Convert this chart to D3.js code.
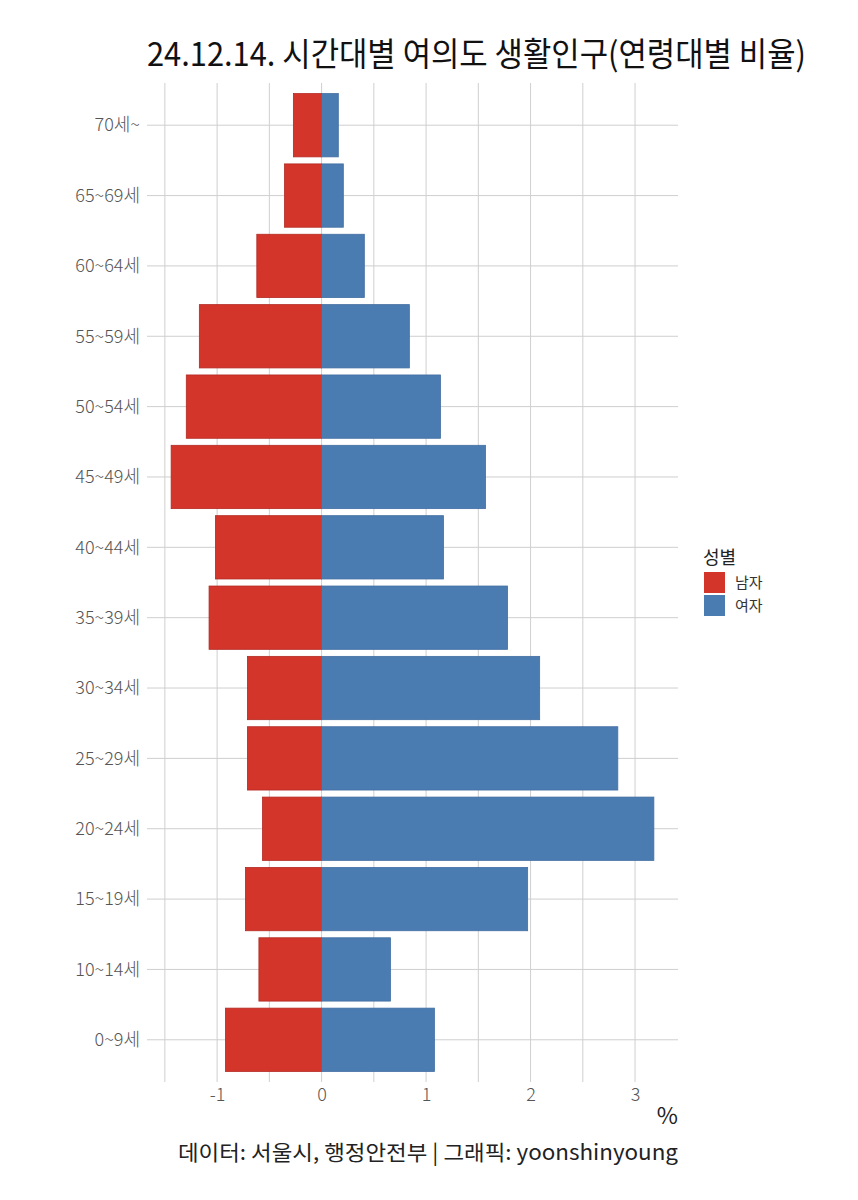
<!DOCTYPE html>
<html>
<head>
<meta charset="utf-8">
<script src="https://cdn.jsdelivr.net/npm/d3@7"></script>
<style>
  html, body { margin: 0; padding: 0; background: #fff; }
  svg { display: block; font-family: "Noto Sans CJK KR", "Noto Sans", sans-serif; }
</style>
</head>
<body>
<svg id="chart" width="858" height="1200"></svg>
<script>
// ---- data ----
const ageGroups = ["70세~", "65~69세", "60~64세", "55~59세", "50~54세", "45~49세", "40~44세",
                   "35~39세", "30~34세", "25~29세", "20~24세", "15~19세", "10~14세", "0~9세"];
const maleValues = [-0.27, -0.355, -0.62, -1.17, -1.295, -1.44, -1.016,
                    -1.077, -0.71, -0.71, -0.566, -0.729, -0.60, -0.92];
const femaleValues = [0.16, 0.208, 0.409, 0.84, 1.138, 1.569, 1.167,
                      1.78, 2.087, 2.835, 3.18, 1.972, 0.659, 1.08];
const seriesNames = ["남자", "여자"];
const xTicks = [-1, 0, 1, 2, 3];
const xMinorTicks = [-1.5, -0.5, 0.5, 1.5, 2.5];
const titleText = "24.12.14. 시간대별 여의도 생활인구(연령대별 비율)";
const captionText = "데이터: 서울시, 행정안전부 | 그래픽: yoonshinyoung";
const xAxisTitle = "%";
const legendTitle = "성별";

// ---- layout ----
const svg = d3.select("#chart");
const panel = { left: 147, right: 678, top: 83, bottom: 1082 };
const colors = { "남자": "#d3352b", "여자": "#4a7bb1" };
const strokes = { "남자": "#b32a22", "여자": "#436fa3" };
const gridColor = "#cfcfcf";
const textGray = "#555555";

const allVals = maleValues.concat(femaleValues);
const lo = d3.min(allVals), hi = d3.max(allVals), span = hi - lo;
const x = d3.scaleLinear().domain([lo - 0.05 * span, hi + 0.05 * span]).range([panel.left, panel.right]);
const y = d3.scalePoint().domain(ageGroups).range([panel.top, panel.bottom]).padding(0.6);
const barH = y.step() * 0.9;

const g = svg.append("g");

// gridlines
g.selectAll("line.vminor").data(xMinorTicks).join("line")
  .attr("x1", d => x(d)).attr("x2", d => x(d))
  .attr("y1", panel.top).attr("y2", panel.bottom)
  .attr("stroke", gridColor).attr("stroke-width", 1);
g.selectAll("line.vmajor").data(xTicks).join("line")
  .attr("x1", d => x(d)).attr("x2", d => x(d))
  .attr("y1", panel.top).attr("y2", panel.bottom)
  .attr("stroke", gridColor).attr("stroke-width", 1);
g.selectAll("line.h").data(ageGroups).join("line")
  .attr("x1", panel.left).attr("x2", panel.right)
  .attr("y1", d => y(d)).attr("y2", d => y(d))
  .attr("stroke", gridColor).attr("stroke-width", 1);

// bars
const rows = [];
ageGroups.forEach((a, i) => {
  rows.push({ age: a, sex: "남자", v: maleValues[i] });
  rows.push({ age: a, sex: "여자", v: femaleValues[i] });
});
g.selectAll("rect.bar").data(rows).join("rect")
  .attr("class", "bar")
  .attr("x", d => Math.min(x(0), x(d.v)))
  .attr("width", d => Math.abs(x(d.v) - x(0)))
  .attr("y", d => y(d.age) - barH / 2)
  .attr("height", barH)
  .attr("fill", d => colors[d.sex])
  .attr("stroke", d => strokes[d.sex])
  .attr("stroke-width", 0.8);

// y axis labels
const yAxis = d3.axisLeft(y).tickSize(0).tickPadding(7);
const yg = svg.append("g").attr("transform", `translate(${panel.left},0)`).call(yAxis);
yg.select(".domain").remove();
yg.selectAll("text").attr("fill", textGray).style("font-size", "18px")
  .style("font-family", "'Noto Sans CJK KR', sans-serif").style("font-weight", 300);

// x axis labels
const xAxis = d3.axisBottom(x).tickValues(xTicks).tickSize(0).tickPadding(6).tickFormat(d3.format("d"));
const xg = svg.append("g").attr("transform", `translate(0,${panel.bottom})`).call(xAxis);
xg.select(".domain").remove();
xg.selectAll("text").attr("fill", textGray).style("font-size", "18px")
  .style("font-family", "'Noto Sans CJK KR', sans-serif").style("font-weight", 300)
  .text(d => d < 0 ? "-" + Math.abs(d) : d);

// x axis title
svg.append("text").attr("x", panel.right).attr("y", 1124).attr("text-anchor", "end")
  .style("font-size", "23px").attr("fill", "#222").text(xAxisTitle);

// title
svg.append("text").attr("x", 147).attr("y", 66)
  .attr("textLength", 659).attr("lengthAdjust", "spacingAndGlyphs")
  .style("font-size", "33px").attr("fill", "#111").style("font-weight", 400).text(titleText);

// caption
svg.append("text").attr("x", panel.right).attr("y", 1160).attr("text-anchor", "end")
  .attr("textLength", 500).attr("lengthAdjust", "spacingAndGlyphs")
  .style("font-size", "21px").attr("fill", "#222").style("font-weight", 400).text(captionText);

// legend
const lg = svg.append("g").attr("transform", "translate(703,0)");
lg.append("text").attr("x", 0).attr("y", 564).style("font-size", "18px").attr("fill", "#222").text(legendTitle);
lg.selectAll("rect").data(seriesNames).join("rect")
  .attr("x", 1).attr("y", (d, i) => 572 + i * 23).attr("width", 21).attr("height", 21)
  .attr("fill", d => colors[d]);
lg.selectAll("text.item").data(seriesNames).join("text").attr("class", "item")
  .attr("x", 32).attr("y", (d, i) => 588 + i * 23)
  .style("font-size", "15px").attr("fill", "#333").text(d => d);
</script>
</body>
</html>
